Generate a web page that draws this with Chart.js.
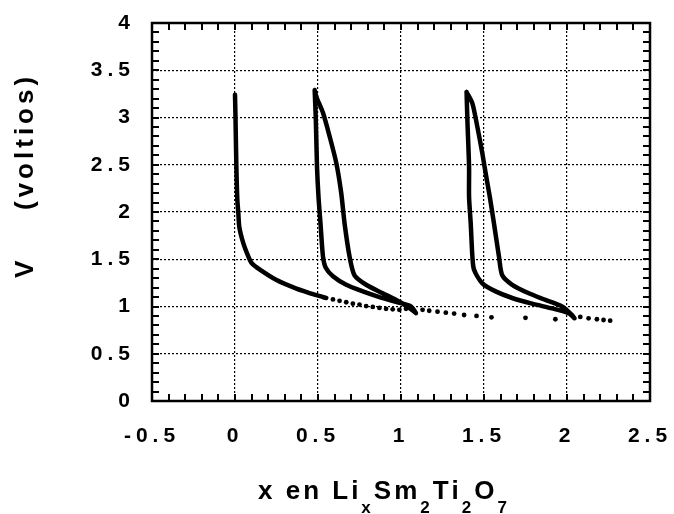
<!DOCTYPE html>
<html>
<head>
<meta charset="utf-8">
<script src="https://cdn.jsdelivr.net/npm/chart.js@4.4.1/dist/chart.umd.min.js"></script>
<style>
  html, body { margin: 0; padding: 0; background: #fff; }
  #caja { width: 674px; height: 514px; }
</style>
</head>
<body>
<div id="caja"><canvas id="grafico"></canvas></div>
<script>
// Primera descarga (línea continua)
const descargaX = [0.0, 0.003, 0.008, 0.014, 0.02, 0.026, 0.05, 0.08, 0.10, 0.15, 0.25, 0.37, 0.49, 0.55];
const descargaV = [3.24, 3.0, 2.5, 2.13, 1.99, 1.84, 1.67, 1.53, 1.46, 1.39, 1.28, 1.19, 1.12, 1.09];

// Puntos sueltos de la descarga
const puntosX = [0.59, 0.63, 0.67, 0.71, 0.75, 0.79, 0.83, 0.87, 0.91, 0.95, 0.99, 1.03, 1.07, 1.13, 1.17, 1.22, 1.27, 1.32, 1.38, 1.455, 1.545, 1.75, 1.93, 2.08, 2.13, 2.18, 2.22, 2.26];
const puntosV = [1.075, 1.06, 1.045, 1.03, 1.02, 1.005, 0.995, 0.985, 0.975, 0.97, 0.965, 0.975, 0.97, 0.965, 0.955, 0.945, 0.935, 0.925, 0.91, 0.90, 0.885, 0.88, 0.865, 0.89, 0.875, 0.865, 0.857, 0.85];

// Primer ciclo (descarga y carga)
const ciclo1X = [0.48, 0.487, 0.494, 0.503, 0.515, 0.53, 0.547, 0.59, 0.67, 0.77, 0.87, 0.97, 1.06, 1.09, 1.07, 0.99, 0.89, 0.79, 0.72, 0.69, 0.66, 0.64, 0.61, 0.57, 0.53, 0.49, 0.48];
const ciclo1V = [3.29, 2.97, 2.48, 2.16, 1.88, 1.53, 1.41, 1.32, 1.23, 1.16, 1.10, 1.05, 1.0, 0.93, 0.96, 1.05, 1.14, 1.23, 1.33, 1.53, 1.88, 2.2, 2.52, 2.80, 3.05, 3.22, 3.29];

// Segundo ciclo
const ciclo2X = [1.395, 1.40, 1.41, 1.41, 1.42, 1.43, 1.44, 1.49, 1.57, 1.67, 1.79, 1.91, 2.01, 2.045, 2.03, 1.97, 1.87, 1.77, 1.67, 1.61, 1.59, 1.56, 1.535, 1.51, 1.49, 1.46, 1.43, 1.395];
const ciclo2V = [3.27, 2.97, 2.48, 2.16, 1.88, 1.53, 1.39, 1.245, 1.16, 1.09, 1.03, 0.98, 0.93, 0.875, 0.91, 1.0, 1.07, 1.14, 1.23, 1.33, 1.53, 1.88, 2.16, 2.41, 2.62, 2.90, 3.15, 3.27];

const pares = (xs, vs) => xs.map((x, i) => ({x: x, y: vs[i]}));

const FUENTE = '"Liberation Sans", Arial, sans-serif';

// Marco, marcas menores y títulos de los ejes
const marco = {
    id: 'marco',
    beforeDraw(chart) {
        chart.ctx.letterSpacing = '5px';
    },
    afterDraw(chart) {
        const {ctx, chartArea: a, scales: {x, y}} = chart;
        ctx.save();
        ctx.letterSpacing = '0px';
        ctx.strokeStyle = '#000';
        ctx.lineWidth = 2;
        ctx.beginPath();
        for (let i = 1; i < 30; i++) {
            const px = Math.round(x.getPixelForValue(-0.5 + i * 0.1));
            ctx.moveTo(px, a.bottom); ctx.lineTo(px, a.bottom - 7);
            ctx.moveTo(px, a.top); ctx.lineTo(px, a.top + 7);
        }
        for (let i = 1; i < 40; i++) {
            const py = Math.round(y.getPixelForValue(i * 0.1));
            ctx.moveTo(a.left, py); ctx.lineTo(a.left + 7, py);
            ctx.moveTo(a.right, py); ctx.lineTo(a.right - 7, py);
        }
        ctx.stroke();
        ctx.lineWidth = 2.5;
        ctx.strokeRect(a.left, a.top, a.right - a.left, a.bottom - a.top);

        // título eje Y
        ctx.fillStyle = '#000';
        ctx.save();
        ctx.translate(33, 278);
        ctx.rotate(-Math.PI / 2);
        ctx.font = 'bold 26px ' + FUENTE;
        ctx.letterSpacing = '4px';
        ctx.textAlign = 'left';
        ctx.textBaseline = 'alphabetic';
        ctx.fillText('V', 0, 0);
        ctx.fillText('(voltios)', 68, 0);
        ctx.restore();

        // título eje X con subíndices
        const piezas = [['x en L', false], ['i', false], ['x', true], ['S', false], ['m', false], ['2', true],
                        ['T', false], ['i', false], ['2', true], ['O', false], ['7', true]];
        ctx.letterSpacing = '3px';
        ctx.textBaseline = 'alphabetic';
        ctx.textAlign = 'left';
        const medir = p => {
            ctx.font = p[1] ? 'bold 17px ' + FUENTE : 'bold 26px ' + FUENTE;
            return ctx.measureText(p[0]).width;
        };
        let total = 0;
        piezas.forEach(p => total += medir(p));
        let cx = 384 - total / 2;
        piezas.forEach(p => {
            const w = medir(p);
            ctx.fillText(p[0], cx, p[1] ? 513 : 499);
            cx += w;
        });
        ctx.restore();
        ctx.letterSpacing = '0px';
    }
};

const etiqueta = v => String(Math.round(v * 10) / 10);

const ctx = document.getElementById('grafico').getContext('2d');
new Chart(ctx, {
    type: 'scatter',
    data: {
        datasets: [
            {
                label: 'descarga',
                data: pares(descargaX, descargaV),
                showLine: true,
                borderColor: '#000',
                borderWidth: 4.5,
                pointRadius: 0,
                tension: 0.25,
                borderCapStyle: 'round',
                borderJoinStyle: 'round'
            },
            {
                label: 'puntos',
                data: pares(puntosX, puntosV),
                showLine: false,
                pointRadius: 2.4,
                pointBackgroundColor: '#000',
                pointBorderWidth: 0
            },
            {
                label: 'ciclo 1',
                data: pares(ciclo1X, ciclo1V),
                showLine: true,
                borderColor: '#000',
                borderWidth: 4.5,
                pointRadius: 0,
                tension: 0.25,
                borderCapStyle: 'round',
                borderJoinStyle: 'round'
            },
            {
                label: 'ciclo 2',
                data: pares(ciclo2X, ciclo2V),
                showLine: true,
                borderColor: '#000',
                borderWidth: 4.5,
                pointRadius: 0,
                tension: 0.25,
                borderCapStyle: 'round',
                borderJoinStyle: 'round'
            }
        ]
    },
    options: {
        responsive: true,
        maintainAspectRatio: false,
        animation: false,
        layout: {padding: {left: 0, top: 23, right: 24, bottom: 0}},
        plugins: {legend: {display: false}, tooltip: {enabled: false}},
        scales: {
            x: {
                type: 'linear',
                min: -0.5,
                max: 2.5,
                afterFit: s => { s.height = 113; s.paddingLeft = 0; s.paddingRight = 0; },
                ticks: {stepSize: 0.5, color: '#000', padding: 23, callback: etiqueta,
                        font: {family: FUENTE, size: 21, weight: 'bold'}},
                grid: {color: '#000', lineWidth: 1.2, drawTicks: false},
                border: {display: false, dash: [2, 2]}
            },
            y: {
                min: 0,
                max: 4,
                afterFit: s => { s.width = 152; s.paddingTop = 0; s.paddingBottom = 0; },
                ticks: {stepSize: 0.5, color: '#000', padding: 17, callback: etiqueta,
                        font: {family: FUENTE, size: 21, weight: 'bold'}},
                grid: {color: '#000', lineWidth: 1.2, drawTicks: false},
                border: {display: false, dash: [2, 2]}
            }
        }
    },
    plugins: [marco]
});
</script>
</body>
</html>
